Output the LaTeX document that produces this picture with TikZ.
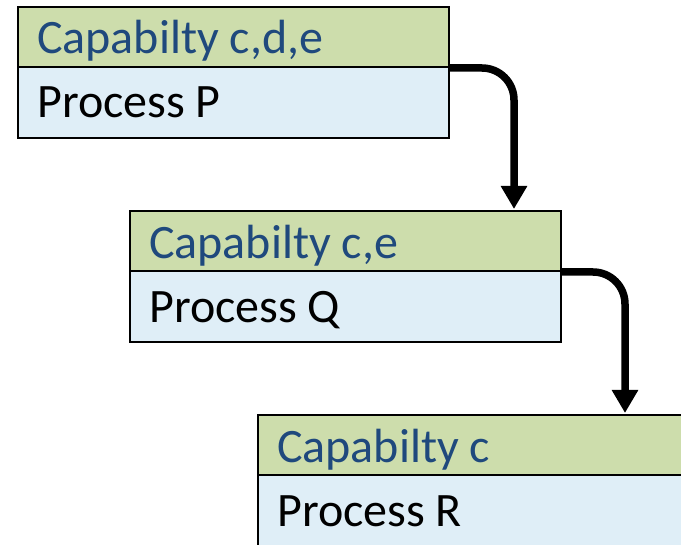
\documentclass[tikz,border=0pt]{standalone}
\usepackage{fontspec}
\setmainfont{Carlito}
\usetikzlibrary{arrows.meta}
\definecolor{hdrgreen}{RGB}{205,221,172}
\definecolor{bodyblue}{RGB}{223,238,247}
\definecolor{capblue}{RGB}{31,73,125}
\begin{document}
\begin{tikzpicture}[x=1pt,y=-1pt,
  hdr/.style={draw=black, line width=2pt, fill=hdrgreen, minimum width=431pt, minimum height=60pt, anchor=north west, inner sep=0pt},
  bdy/.style={draw=black, line width=2pt, fill=bodyblue, minimum width=431pt, minimum height=71pt, anchor=north west, inner sep=0pt},
  captxt/.style={anchor=base west, inner sep=0pt, text=capblue, font=\fontsize{48}{56}\selectfont},
  proctxt/.style={anchor=base west, inner sep=0pt, text=black, font=\fontsize{48}{56}\selectfont},
  flow/.style={line width=7.5pt, rounded corners=32pt, -{Triangle[width=25pt,length=23pt]}}]
\useasboundingbox (0,0) rectangle (681,545);
\clip (0,0) rectangle (681,545);
% box 1
\node[bdy] (b1) at (17,66) {};
\node[hdr] (h1) at (17,6) {};
\node[captxt] (c1) at (37,54) {Capabilty c,d,e};
\node[proctxt] (p1) at (37,118) {Process P};
% box 2
\node[bdy] (b2) at (129,270) {};
\node[hdr] (h2) at (129,210) {};
\node[captxt] (c2) at (149,259) {Capabilty c,e};
\node[proctxt] (p2) at (149,323) {Process Q};
% box 3
\node[bdy, minimum height=100pt] (b3) at (257,474) {};
\node[hdr] (h3) at (257,414) {};
\node[captxt] (c3) at (277,463) {Capabilty c};
\node[proctxt] (p3) at (277,527) {Process R};
% arrows
\coordinate (t1) at ([xshift=385pt,yshift=1pt]h2.north west);
\coordinate (t2) at ([xshift=368pt,yshift=1pt]h3.north west);
\draw[flow] (h1.south east) -| (t1);
\draw[flow] (h2.south east) -| (t2);
\end{tikzpicture}
\end{document}
